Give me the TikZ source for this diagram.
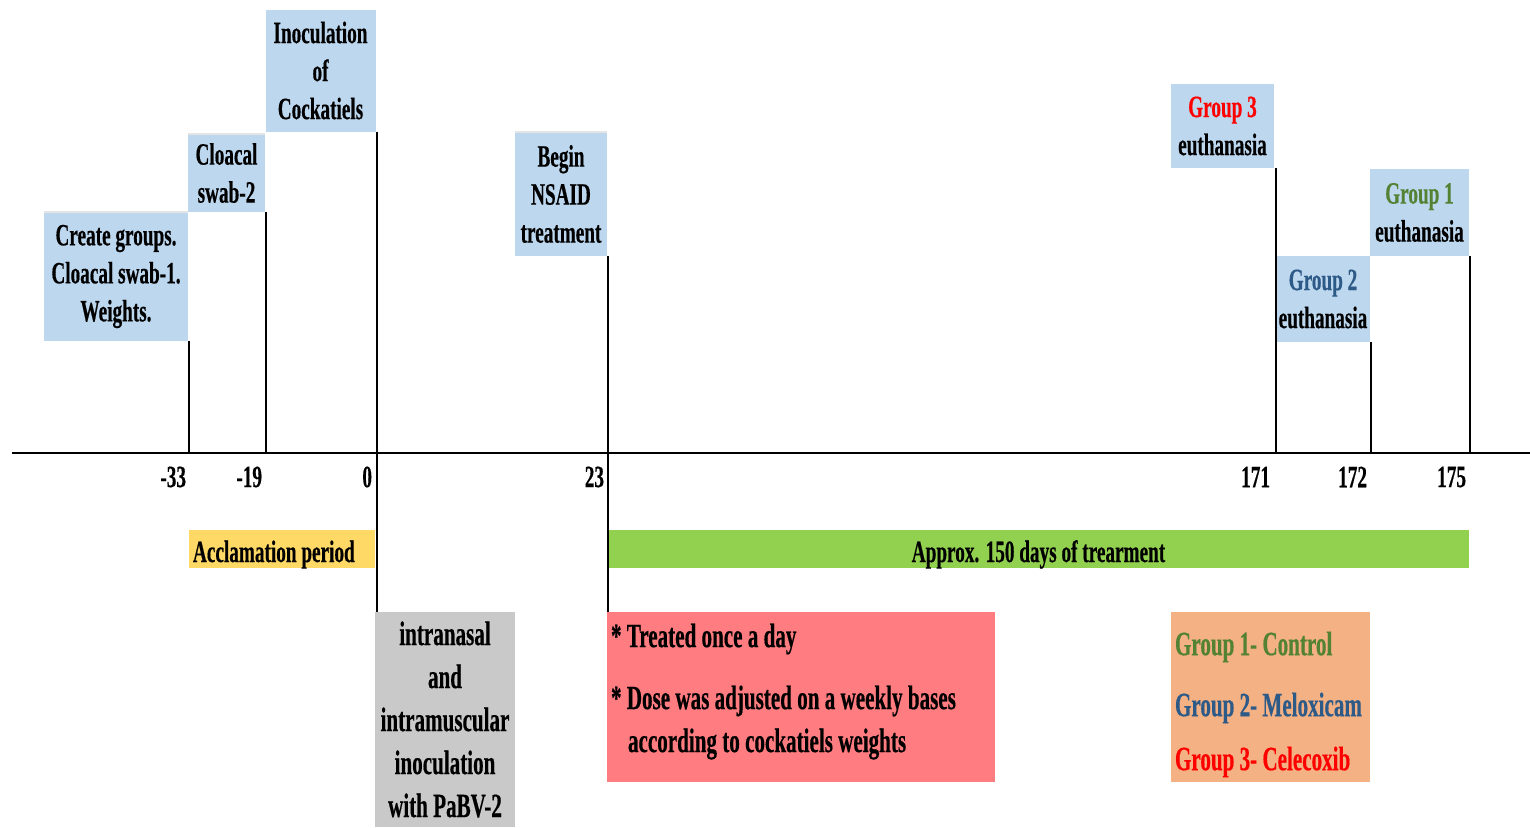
\documentclass[tikz,border=0pt]{standalone}
\usepackage{fontspec}
\setmainfont{Liberation Serif}[FakeStretch=0.62, FakeBold=0.4]
\definecolor{boxblue}{HTML}{BDD7EE}
\definecolor{boxyellow}{HTML}{FFD966}
\definecolor{boxgreen}{HTML}{92D050}
\definecolor{boxgray}{HTML}{C9C9C9}
\definecolor{boxred}{HTML}{FF7C80}
\definecolor{boxorange}{HTML}{F4B183}
\definecolor{grpgreen}{HTML}{548235}
\definecolor{grpblue}{HTML}{2E5A88}
\definecolor{grpred}{HTML}{FF0000}
\definecolor{topgray}{HTML}{E4E4E4}
\begin{document}
\begin{tikzpicture}[x=1pt,y=-1pt,
  txt/.style={inner sep=0pt, outer sep=0pt, align=center, font=\fontsize{31}{38}\selectfont\bfseries},
  bigtxt/.style={inner sep=0pt, outer sep=0pt, align=center, font=\fontsize{34}{43}\selectfont\bfseries},
  bluebox/.style={txt, fill=boxblue},
  conn/.style={draw=black, line width=2pt},
  ticklabel/.style={txt, anchor=east}]
\useasboundingbox (0,0) rectangle (1530,827);

% top boxes
\node[bluebox, minimum width=144, minimum height=129] (create) at (116,276.5) {Create groups.\\Cloacal swab-1.\\Weights.};
\node[bluebox, minimum width=77, minimum height=78] (swab) at (226.5,173) {Cloacal\\swab-2};
\node[bluebox, minimum width=110, minimum height=122] (inoc) at (320.5,70.5) {Inoculation\\of\\Cockatiels};
\node[bluebox, minimum width=92, minimum height=124] (nsaid) at (561,194) {Begin\\NSAID\\treatment};
\node[bluebox, minimum width=103, minimum height=84] (g3) at (1222.5,126) {\textcolor{grpred}{Group 3}\\euthanasia};
\node[bluebox, minimum width=94, minimum height=86] (g2) at (1323,299) {\textcolor{grpblue}{Group 2}\\euthanasia};
\node[bluebox, minimum width=99, minimum height=87] (g1) at (1419.5,212.5) {\textcolor{grpgreen}{Group 1}\\euthanasia};

% light top edges
\draw[topgray, line width=2.5pt] (create.north west) -- (create.north east);
\draw[topgray, line width=2.5pt] (swab.north west) -- (swab.north east);
\draw[topgray, line width=2.5pt] (nsaid.north west) -- (nsaid.north east);

% axis
\coordinate (axL) at (12,453);
\coordinate (axR) at (1530,453);
\draw[conn] (axL) -- (axR);

% period bars
\node[fill=boxyellow, minimum width=186, minimum height=38, inner sep=0pt, outer sep=0pt] (accl) at (282,549) {};
\node[txt, anchor=west, text height=26pt, text depth=0pt] (accltext) at (193,549) {Acclamation period};
\node[txt, fill=boxgreen, text height=26pt, text depth=0pt, minimum width=861, minimum height=38] (treat) at (1038.5,549) {Approx. 150 days of trearment};

% bottom boxes
\node[bigtxt, fill=boxgray, minimum width=140, minimum height=215] (route) at (445,719.5) {intranasal\\and\\intramuscular\\inoculation\\with PaBV-2};
\node[fill=boxred, minimum width=388, minimum height=170, inner sep=0pt, outer sep=0pt] (notes) at (801,697) {};
\node[fill=boxorange, minimum width=199, minimum height=170, inner sep=0pt, outer sep=0pt] (legend) at (1270.5,697) {};

\node[bigtxt, anchor=west] (n1) at (611,639) {* Treated once a day};
\node[bigtxt, anchor=west] (n2) at (611,701) {* Dose was adjusted on a weekly bases};
\node[bigtxt, anchor=west] (n3) at (628,744) {according to cockatiels weights};

\node[bigtxt, anchor=west, text=grpgreen] (l1) at (1175,647) {Group 1- Control};
\node[bigtxt, anchor=west, text=grpblue] (l2) at (1175,708) {Group 2- Meloxicam};
\node[bigtxt, anchor=west, text=grpred] (l3) at (1175,762) {Group 3- Celecoxib};

% tick lines
\draw[conn] (create.south east) ++(1,0) coordinate (c1) -- (c1 |- axL);
\draw[conn] (swab.south east) ++(1,0) coordinate (c2) -- (c2 |- axL);
\draw[conn] (inoc.south east) ++(1,0) coordinate (c3) -- (route.north west -| c3);
\draw[conn] (nsaid.south east) ++(1,0) coordinate (c4) -- (notes.north west -| c4);
\draw[conn] (g3.south east) ++(1.5,0) coordinate (c5) -- (c5 |- axL);
\draw[conn] (g2.south east) ++(1,0) coordinate (c6) -- (c6 |- axL);
\draw[conn] (g1.south east) ++(1,0) coordinate (c7) -- (c7 |- axL);

% tick labels
\node[ticklabel] (l33) at (186,477) {-33};
\node[ticklabel] (l19) at (262,477) {-19};
\node[ticklabel] (l0) at (372,477) {0};
\node[ticklabel] (l23) at (604,477) {23};
\node[ticklabel] (l171) at (1270,477) {171};
\node[ticklabel] (l172) at (1367,477) {172};
\node[ticklabel] (l175) at (1466,477) {175};
\end{tikzpicture}
\end{document}
